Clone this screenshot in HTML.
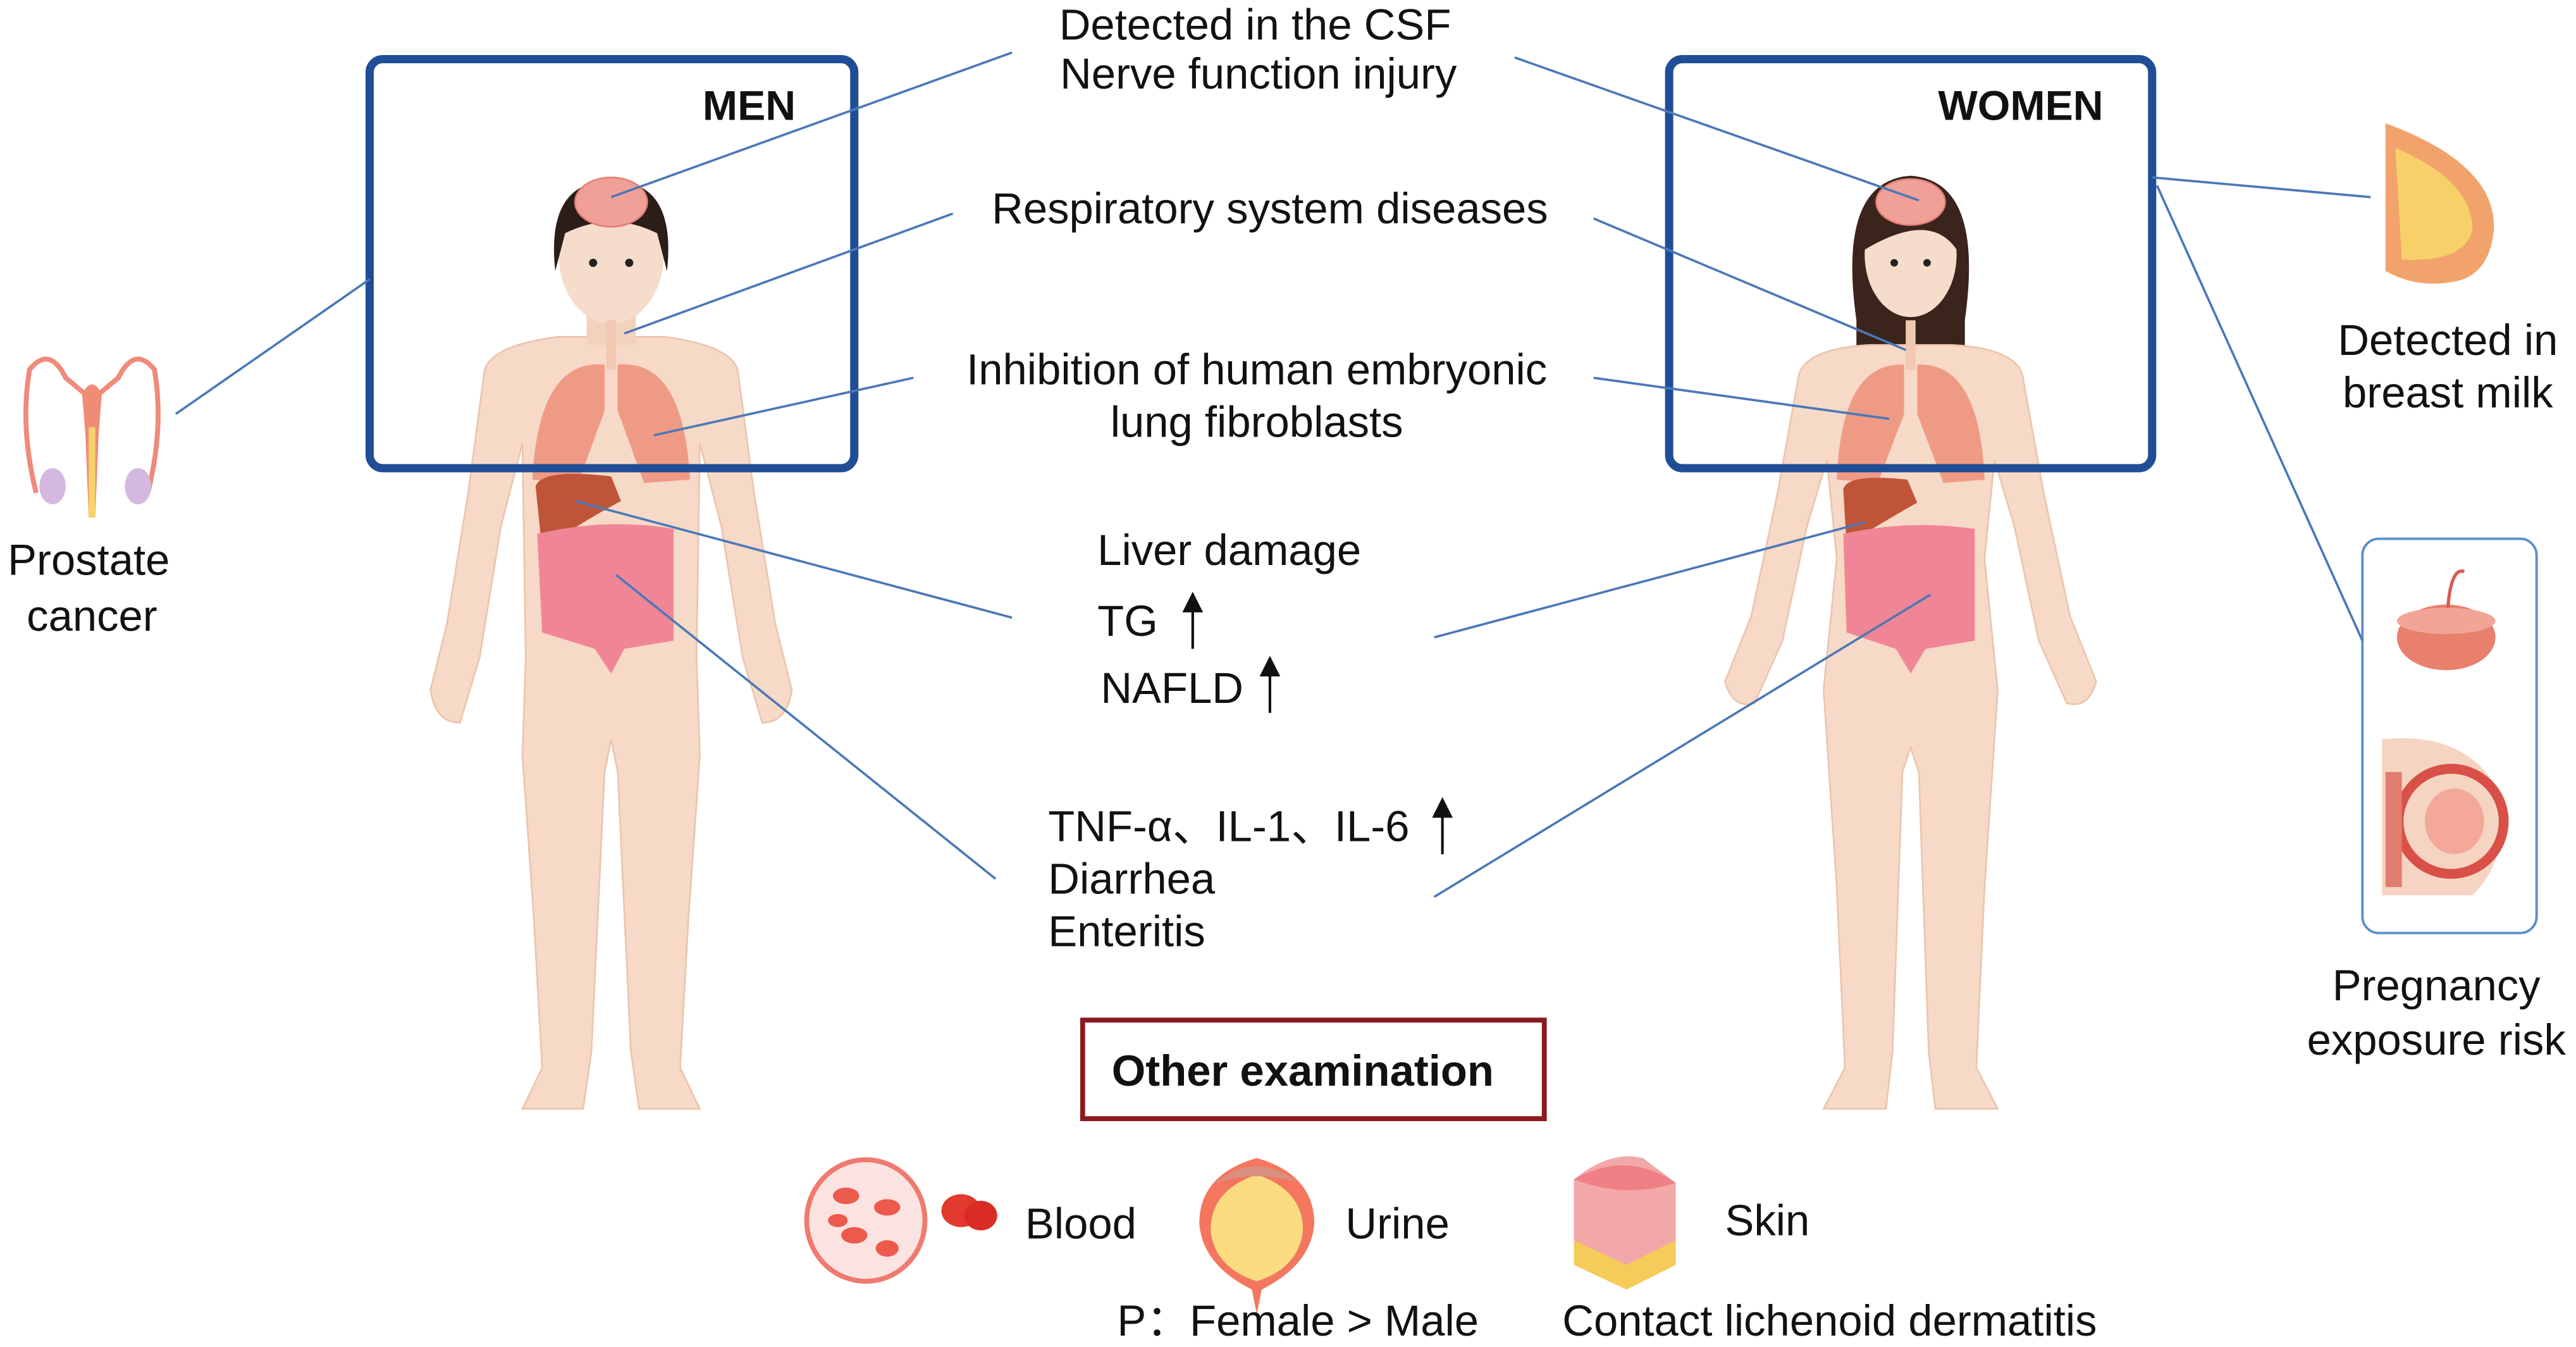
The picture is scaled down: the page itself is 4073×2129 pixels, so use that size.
<!DOCTYPE html>
<html><head><meta charset="utf-8"><style>
html,body{margin:0;padding:0;background:#fff;}
svg{display:block;}
text{font-family:"Liberation Sans",Arial,sans-serif;fill:#111;}
</style></head><body>
<svg width="4073" height="2129" viewBox="0 0 1568 820" preserveAspectRatio="none" xmlns="http://www.w3.org/2000/svg">
<rect width="1568" height="820" fill="#fff"/>

<!-- MEN body -->
<g>
<path d="M340 205 Q300 210 295 225 L285 300 L272 380 L262 420 Q265 440 280 440 L292 400 L305 320 L318 270 L320 400 L318 460 L325 560 L330 650 L318 675 L355 675 L360 640 L368 470 L372 450 L376 470 L384 640 L389 675 L426 675 L414 650 L419 560 L426 460 L424 400 L426 270 L439 320 L452 400 L464 440 Q479 440 482 420 L472 380 L459 300 L449 225 Q444 210 404 205 Z" fill="#f6d9c6" stroke="#ecc4ac" stroke-width="1"/>
<rect x="357" y="180" width="30" height="30" fill="#f3d2bd"/>
<ellipse cx="372" cy="155" rx="32" ry="42" fill="#f6dccb"/>
<path d="M338 165 Q332 110 372 110 Q412 110 406 165 L400 142 Q372 128 344 142 Z" fill="#2b1d18"/>
<ellipse cx="372" cy="123" rx="22" ry="15" fill="#f0a097" stroke="#e07f76" stroke-width="1"/>
<circle cx="361" cy="160" r="2.5" fill="#222"/><circle cx="383" cy="160" r="2.5" fill="#222"/>
<rect x="369" y="195" width="6" height="30" fill="#f2c8b2"/>
<path d="M368 222 Q328 218 324 292 L352 294 L368 250 Z" fill="#ef9a85"/>
<path d="M376 222 Q416 218 420 292 L392 294 L376 250 Z" fill="#ef9a85"/>
<path d="M326 296 Q330 285 372 290 L378 305 Q350 320 330 335 Z" fill="#bf5438"/>
<path d="M327 325 Q370 315 410 322 L410 390 L380 395 L372 410 L362 395 L330 385 Z" fill="#f08595"/>
</g>

<!-- WOMEN body -->
<g>
<path d="M1130 195 Q1118 110 1163 107 Q1208 110 1196 195 L1196 225 L1130 225 Z" fill="#3a241c"/>
<path d="M1138 210 Q1100 212 1095 228 L1082 300 L1066 375 L1050 415 Q1055 432 1068 428 L1085 390 L1100 320 L1112 280 L1118 340 L1110 420 L1118 540 L1123 650 L1110 675 L1148 675 L1152 640 L1158 470 L1163 455 L1168 470 L1174 640 L1178 675 L1216 675 L1203 650 L1208 540 L1216 420 L1208 340 L1214 280 L1226 320 L1241 390 L1258 428 Q1271 432 1276 415 L1260 375 L1244 300 L1231 228 Q1226 212 1188 210 Z" fill="#f6d9c6" stroke="#ecc4ac" stroke-width="1"/>
<ellipse cx="1163" cy="155" rx="28" ry="38" fill="#f6dccb"/>
<path d="M1135 152 Q1135 112 1163 112 Q1191 112 1191 152 Q1175 128 1135 152Z" fill="#3a241c"/>
<ellipse cx="1163" cy="123" rx="21" ry="14" fill="#f0a097" stroke="#e07f76" stroke-width="1"/>
<circle cx="1153" cy="160" r="2.3" fill="#222"/><circle cx="1173" cy="160" r="2.3" fill="#222"/>
<rect x="1160" y="195" width="6" height="30" fill="#f2c8b2"/>
<path d="M1159 222 Q1121 220 1118 292 L1143 294 L1159 252 Z" fill="#ef9a85"/>
<path d="M1167 222 Q1205 220 1208 292 L1183 294 L1167 252 Z" fill="#ef9a85"/>
<path d="M1122 298 Q1124 288 1161 292 L1167 306 Q1142 320 1124 332 Z" fill="#bf5438"/>
<path d="M1122 325 Q1163 316 1202 322 L1202 390 L1172 395 L1163 410 L1154 395 L1124 385 Z" fill="#f08595"/>
</g>

<!-- boxes -->
<rect x="225" y="36" width="295" height="249" rx="8" fill="none" stroke="#1f4e96" stroke-width="5"/>
<rect x="1016" y="36" width="294" height="249" rx="8" fill="none" stroke="#1f4e96" stroke-width="5"/>
<text x="456" y="73" font-size="25.5" font-weight="bold" text-anchor="middle">MEN</text>
<text x="1230" y="73" font-size="25.5" font-weight="bold" text-anchor="middle">WOMEN</text>
<rect x="1438" y="328" width="106" height="240" rx="10" fill="none" stroke="#5b8fc9" stroke-width="1.5"/>
<rect x="659" y="621" width="281" height="60" fill="none" stroke="#8b1a1f" stroke-width="3"/>

<!-- connector lines -->
<g stroke="#4a78b8" stroke-width="1.4" fill="none">
<line x1="107" y1="252" x2="225" y2="170"/>
<line x1="616" y1="32" x2="372" y2="120"/>
<line x1="580" y1="130" x2="380" y2="203"/>
<line x1="556" y1="230" x2="398" y2="265"/>
<line x1="616" y1="376" x2="350" y2="305"/>
<line x1="606" y1="535" x2="375" y2="350"/>
<line x1="922" y1="35" x2="1168" y2="122"/>
<line x1="970" y1="133" x2="1160" y2="213"/>
<line x1="970" y1="230" x2="1150" y2="255"/>
<line x1="873" y1="388" x2="1135" y2="318"/>
<line x1="873" y1="546" x2="1175" y2="362"/>
<line x1="1310" y1="108" x2="1443" y2="120"/>
<line x1="1313" y1="113" x2="1438" y2="390"/>
</g>

<!-- prostate icon -->
<g fill="none" stroke="#f08a7a" stroke-width="3">
<path d="M22 300 Q12 260 18 225 Q30 210 40 230 L52 240"/>
<path d="M90 300 Q100 260 94 225 Q82 210 72 230 L60 240"/>
</g>
<path d="M50 240 Q56 228 62 240 L60 265 L58 315 L54 315 L52 265 Z" fill="#ee8c76"/>
<rect x="54" y="260" width="4" height="55" fill="#f7d36a"/>
<ellipse cx="32" cy="296" rx="8" ry="11" fill="#d4b8e0"/>
<ellipse cx="84" cy="296" rx="8" ry="11" fill="#d4b8e0"/>

<!-- breast icon -->
<path d="M1452 75 Q1520 100 1518 140 Q1515 170 1490 172 Q1470 175 1452 165 Z" fill="#f2a36b"/>
<path d="M1458 90 Q1505 110 1505 140 Q1500 160 1462 158 Z" fill="#f7d06a"/>

<!-- placenta & fetus -->
<ellipse cx="1489" cy="388" rx="30" ry="20" fill="#e9806b"/>
<ellipse cx="1489" cy="378" rx="30" ry="8" fill="#f2a597"/>
<path d="M1490 370 Q1492 345 1500 348" fill="none" stroke="#d65c50" stroke-width="2"/>
<path d="M1450 450 Q1500 445 1520 480 Q1530 520 1505 545 L1450 545 Z" fill="#f6d4c2"/>
<circle cx="1492" cy="500" r="32" fill="none" stroke="#d85048" stroke-width="6"/>
<ellipse cx="1494" cy="500" rx="18" ry="20" fill="#f3a89a"/>
<rect x="1452" y="470" width="10" height="70" fill="#e07d6f"/>

<!-- blood -->
<ellipse cx="527" cy="743" rx="36" ry="37" fill="#fbe3e1" stroke="#ef7a6f" stroke-width="3"/>
<g fill="#ec5a4c"><ellipse cx="515" cy="728" rx="8" ry="5"/><ellipse cx="540" cy="735" rx="8" ry="5"/><ellipse cx="520" cy="752" rx="8" ry="5"/><ellipse cx="540" cy="760" rx="7" ry="5"/><ellipse cx="510" cy="743" rx="6" ry="4"/></g>
<ellipse cx="585" cy="737" rx="12" ry="10" fill="#e23a2e"/><ellipse cx="597" cy="740" rx="10" ry="9" fill="#d82c24"/>
<!-- urine -->
<path d="M765 705 Q800 715 800 745 Q798 770 768 785 L765 800 L762 785 Q732 770 730 745 Q730 715 765 705Z" fill="#f4765f"/>
<path d="M765 715 Q794 725 793 750 Q790 772 765 780 Q740 772 737 750 Q736 725 765 715Z" fill="#fcdc80"/>
<path d="M740 720 Q765 700 790 720 Q765 712 740 720Z" fill="#d99080"/>
<!-- skin -->
<path d="M958 718 Q980 700 1000 705 L1020 720 L1020 770 L990 785 L958 770 Z" fill="#f2a7a8"/>
<path d="M958 755 L990 770 L1020 755 L1020 770 L990 785 L958 770Z" fill="#f5cb5a"/>
<path d="M958 718 Q990 700 1020 720 Q990 730 958 718Z" fill="#f07f86"/>

<!-- texts -->
<g font-size="26.5">
<text x="764" y="24" text-anchor="middle">Detected in the CSF</text>
<text x="766" y="54" text-anchor="middle">Nerve function injury</text>
<text x="773" y="136" text-anchor="middle">Respiratory system diseases</text>
<text x="765" y="234" text-anchor="middle">Inhibition of human embryonic</text>
<text x="765" y="266" text-anchor="middle">lung fibroblasts</text>
<text x="668" y="344">Liver damage</text>
<text x="668" y="387">TG</text>
<text x="670" y="428">NAFLD</text>
<text x="638" y="512">TNF-α、IL-1、IL-6</text>
<text x="638" y="544">Diarrhea</text>
<text x="638" y="576">Enteritis</text>
<text x="54" y="350" text-anchor="middle">Prostate</text>
<text x="56" y="384" text-anchor="middle">cancer</text>
<text x="1490" y="216" text-anchor="middle">Detected in</text>
<text x="1490" y="248" text-anchor="middle">breast milk</text>
<text x="1483" y="609" text-anchor="middle">Pregnancy</text>
<text x="1483" y="642" text-anchor="middle">exposure risk</text>
<text x="624" y="754">Blood</text>
<text x="819" y="754">Urine</text>
<text x="1050" y="752">Skin</text>
<text x="680" y="813">P：Female &gt; Male</text>
<text x="951" y="813">Contact lichenoid dermatitis</text>
</g>
<text x="793" y="661" font-size="26.5" font-weight="bold" text-anchor="middle">Other examination</text>
<!-- up arrows -->
<g stroke="#111" stroke-width="1.6" fill="#111">
<line x1="726" y1="395" x2="726" y2="368"/><path d="M721 372 L726 362 L731 372Z"/>
<line x1="773" y1="434" x2="773" y2="407"/><path d="M768 411 L773 401 L778 411Z"/>
<line x1="878" y1="520" x2="878" y2="493"/><path d="M873 497 L878 487 L883 497Z"/>
</g>
</svg>
</body></html>
